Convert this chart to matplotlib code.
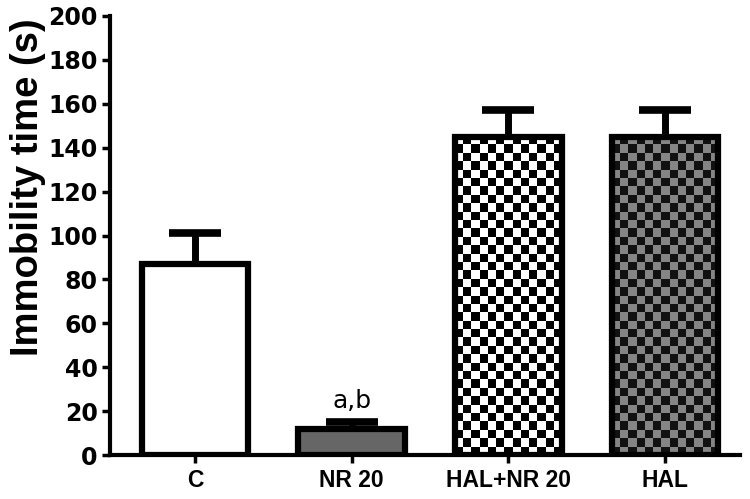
import numpy as np
import matplotlib
matplotlib.use("Agg")
import matplotlib.pyplot as plt
from matplotlib.patches import Rectangle
from matplotlib.colors import ListedColormap

categories = ["C", "NR 20", "HAL+NR 20", "HAL"]
means = [87, 12, 145, 145]
errors = [14, 3, 12, 12]
annotations = ["", "a,b", "", ""]

fig = plt.figure(figsize=(7.5, 4.99), dpi=100)
ax = fig.add_axes([0.147, 0.088, 0.840, 0.880])

x = np.arange(len(categories))
width = 0.68
lw = 4.5

ax.set_xlim(-0.54, 3.48)
ax.set_ylim(0, 200)

styles = [
    dict(kind="solid", color="white"),
    dict(kind="solid", color="#666666"),
    dict(kind="checker", c1="black", c2="white"),
    dict(kind="checker", c1="#111111", c2="#858585"),
]

fig.canvas.draw()
p0 = ax.transData.transform((0, 0))
p1 = ax.transData.transform((1, 1))
px_x = p1[0] - p0[0]
px_y = p1[1] - p0[1]
cell = 8.3

for xi, m, st in zip(x, means, styles):
    if st["kind"] == "solid":
        ax.bar(xi, m, width, color=st["color"], edgecolor="black", linewidth=lw, zorder=2)
    else:
        nx = int(round(width * px_x / cell))
        ny = int(round(m * px_y / cell))
        ii, jj = np.indices((ny, nx))
        board = ((ii + jj) % 2).astype(float)
        cmap = ListedColormap([st["c1"], st["c2"]])
        rect = Rectangle((xi - width / 2, 0), width, m, facecolor="none",
                         edgecolor="black", linewidth=lw, zorder=3)
        ax.add_patch(rect)
        im = ax.imshow(board, cmap=cmap, extent=(xi - width / 2, xi + width / 2, 0, m),
                       origin="lower", interpolation="nearest", aspect="auto", zorder=2)
        im.set_clip_path(Rectangle((xi - width / 2, 0), width, m, transform=ax.transData))

eb = ax.errorbar(x, means, yerr=[np.zeros(len(errors)), errors], fmt="none",
                 ecolor="black", elinewidth=5, capsize=19, capthick=5.5, zorder=4)
eb[1][0].set_visible(False)

for xi, m, e, t in zip(x, means, errors, annotations):
    if t:
        ax.text(xi, m + e + 4, t, ha="center", va="bottom", fontsize=18,
                family="DejaVu Sans")

ax.set_xticks(x)
ax.set_xticklabels(categories, fontsize=16.5, fontweight="bold", family="Liberation Sans")
ax.set_yticks(np.arange(0, 201, 20))
ax.set_yticklabels([str(v) for v in range(0, 201, 20)], fontsize=17, fontweight="bold",
                   family="DejaVu Sans")
ax.set_ylabel("Immobility time (s)", fontsize=27.5, fontweight="bold", family="Liberation Sans")
ax.yaxis.set_label_coords(-0.102, 0.61)

for s in ["top", "right"]:
    ax.spines[s].set_visible(False)
for s in ["left", "bottom"]:
    ax.spines[s].set_linewidth(3)
ax.tick_params(axis="both", width=2.5, length=6, direction="out")
ax.tick_params(axis="x", pad=4)
ax.tick_params(axis="y", pad=3)

fig.savefig("out.png", dpi=100)
